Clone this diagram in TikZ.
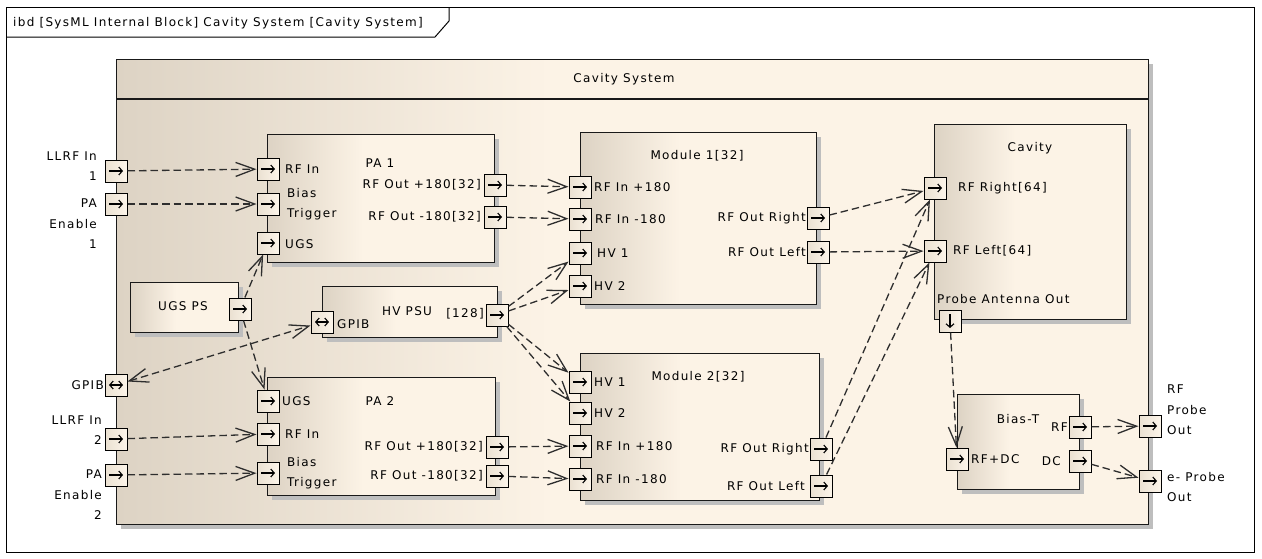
\documentclass[tikz,border=0pt]{standalone}
\usepackage{fontspec}
\setmainfont{DejaVu Sans}[LetterSpace=11]
\usetikzlibrary{arrows.meta,shadows}
\definecolor{blkdark}{HTML}{DDD3C4}
\definecolor{blklight}{HTML}{FCF3E6}
\definecolor{portdark}{HTML}{EAE0D1}
\definecolor{portlight}{HTML}{FCF5EA}
\definecolor{shadowc}{HTML}{BEBEBE}
\definecolor{linec}{HTML}{2E2E2E}
\pgfdeclarehorizontalshading{blkshade}{100bp}{color(0bp)=(blkdark); color(25bp)=(blkdark); color(46bp)=(blklight); color(100bp)=(blklight)}
\newcommand\lblfont{\fontsize{12}{20.5}\selectfont}
\tikzset{
  block/.style={draw=black!90, line width=1.2pt, shading=blkshade, anchor=north west, inner sep=0pt,
    drop shadow={shadow xshift=4pt, shadow yshift=-4pt, fill=shadowc, opacity=1}},
  port/.style={draw=black, line width=1pt, left color=portdark, right color=portlight, minimum size=22pt, inner sep=0pt},
  pR/.style={port, path picture={\draw[line width=1.1pt, -{Straight Barb[length=3.5pt,width=8pt]}] ([xshift=-7pt]path picture bounding box.center) -- ([xshift=7pt]path picture bounding box.center);}},
  pLR/.style={port, path picture={\draw[line width=1.1pt, {Straight Barb[length=3.5pt,width=8pt]}-{Straight Barb[length=3.5pt,width=8pt]}] ([xshift=-7pt]path picture bounding box.center) -- ([xshift=7pt]path picture bounding box.center);}},
  pD/.style={port, path picture={\draw[line width=1.1pt, -{Straight Barb[length=3.5pt,width=8pt]}] ([yshift=7pt]path picture bounding box.center) -- ([yshift=-7pt]path picture bounding box.center);}},
  lbl/.style={inner sep=0pt, font=\lblfont},
  conn/.style={draw=linec, line width=1.3pt, dash pattern=on 7.5pt off 4pt, -{Straight Barb[length=19pt,width=14pt]}},
  conn2/.style={conn, {Straight Barb[length=19pt,width=14pt]}-{Straight Barb[length=19pt,width=14pt]}}
}
\begin{document}
\begin{tikzpicture}[x=1pt,y=-1pt]
\useasboundingbox (0,0) rectangle (1262,558);
% frame
\draw[line width=1pt] (6,7) rectangle (1254,552);
\draw[line width=1pt] (6,37) -- (435,37) -- (449,21) -- (449,7);
\node[lbl, anchor=west] (hdr) at (13,23) {ibd [SysML Internal Block] Cavity System [Cavity System]};
% outer block
\node[block, minimum width=1032pt, minimum height=465pt] (sys) at (116,59) {};
\draw[line width=1.2pt, black!90] ([yshift=-40pt]sys.north west) -- ([yshift=-40pt]sys.north east);
\node[lbl] (systitle) at (624,79) {Cavity System};
% blocks
\node[block, minimum width=227pt, minimum height=128pt] (pa1) at (267,134) {};
\node[block, minimum width=175pt, minimum height=51pt] (hvpsu) at (322,286) {};
\node[block, minimum width=108pt, minimum height=50pt] (ugsps) at (130,282) {};
\node[block, minimum width=236pt, minimum height=172pt] (mod1) at (580,132) {};
\node[block, minimum width=192pt, minimum height=195pt] (cav) at (934,124) {};
\node[block, minimum width=228pt, minimum height=118pt] (pa2) at (267,377) {};
\node[block, minimum width=239pt, minimum height=147pt] (mod2) at (580,353) {};
\node[block, minimum width=122pt, minimum height=95pt] (biast) at (957,394) {};
% titles
\node[lbl] (pa1t) at (380,163) {PA 1};
\node[lbl] (hvt) at (407,311) {HV PSU};
\node[lbl] (ugst) at (183,306) {UGS PS};
\node[lbl] (m1t) at (697,156) {Module 1[32]};
\node[lbl] (cavt) at (1030,148) {Cavity};
\node[lbl] (pa2t) at (380,401) {PA 2};
\node[lbl] (m2t) at (698,377) {Module 2[32]};
\node[lbl] (bt) at (1018,419) {Bias-T};
% boundary ports
\node[pR] (llrf1) at (116,171) {};
\node[pR] (paen1) at (116,204) {};
\node[pLR] (gpib) at (116,385) {};
\node[pR] (llrf2) at (116,439) {};
\node[pR] (paen2) at (116,475) {};
\node[pR] (rfprobe) at (1150,426) {};
\node[pR] (eprobe) at (1150,481) {};
\node[lbl, anchor=east, align=right] at (97,166) {LLRF In\\1};
\node[lbl, anchor=east, align=right] at (97,224) {PA\\Enable\\1};
\node[lbl, anchor=east] at (104,385) {GPIB};
\node[lbl, anchor=east, align=right] at (102,430) {LLRF In\\2};
\node[lbl, anchor=east, align=right] at (102,495) {PA\\Enable\\2};
\node[lbl, anchor=west, align=left] at (1167,410) {RF\\Probe\\Out};
\node[lbl, anchor=west, align=left] at (1167,487) {e- Probe\\Out};
% PA1 ports
\node[pR] (pa1rf) at (268,169) {};
\node[pR] (pa1bias) at (268,204) {};
\node[pR] (pa1ugs) at (268,243) {};
\node[pR] (pa1p) at (495,185) {};
\node[pR] (pa1m) at (495,217) {};
\node[lbl, anchor=west] at (285,169) {RF In};
\node[lbl, anchor=west, align=left] at (287,204) {Bias\\Trigger};
\node[lbl, anchor=west] at (285,244) {UGS};
\node[lbl, anchor=east] at (481,185) {RF Out +180[32]};
\node[lbl, anchor=east] at (481,217) {RF Out -180[32]};
% HV PSU / UGS PS ports
\node[pLR] (hvg) at (322,322) {};
\node[pR] (hvo) at (497,315) {};
\node[pR] (ugso) at (240,309) {};
\node[lbl, anchor=west] at (337,324) {GPIB};
\node[lbl, anchor=east] at (484,314) {[128]};
% Module 1 ports
\node[pR] (m1p) at (580,187) {};
\node[pR] (m1m) at (580,219) {};
\node[pR] (m1h1) at (580,253) {};
\node[pR] (m1h2) at (580,286) {};
\node[pR] (m1r) at (818,218) {};
\node[pR] (m1l) at (818,252) {};
\node[lbl, anchor=west] at (594,187) {RF In +180};
\node[lbl, anchor=west] at (595,219) {RF In -180};
\node[lbl, anchor=west] at (597,253) {HV 1};
\node[lbl, anchor=west] at (594,286) {HV 2};
\node[lbl, anchor=east] at (806,218) {RF Out Right};
\node[lbl, anchor=east] at (806,252) {RF Out Left};
% Cavity ports
\node[pR] (cr) at (935,188) {};
\node[pR] (cl) at (935,251) {};
\node[pD] (cprobe) at (950,321) {};
\node[lbl, anchor=west] at (958,188) {RF Right[64]};
\node[lbl, anchor=west] at (953,251) {RF Left[64]};
\node[lbl, anchor=west] at (937,299) {Probe Antenna Out};
% PA2 ports
\node[pR] (pa2ugs) at (268,401) {};
\node[pR] (pa2rf) at (268,434) {};
\node[pR] (pa2bias) at (268,473) {};
\node[pR] (pa2p) at (497,447) {};
\node[pR] (pa2m) at (497,476) {};
\node[lbl, anchor=west] at (282,401) {UGS};
\node[lbl, anchor=west] at (285,434) {RF In};
\node[lbl, anchor=west, align=left] at (287,473) {Bias\\Trigger};
\node[lbl, anchor=east] at (483,447) {RF Out +180[32]};
\node[lbl, anchor=east] at (483,476) {RF Out -180[32]};
% Module 2 ports
\node[pR] (m2h1) at (580,382) {};
\node[pR] (m2h2) at (580,413) {};
\node[pR] (m2p) at (580,446) {};
\node[pR] (m2m) at (580,479) {};
\node[pR] (m2r) at (821,449) {};
\node[pR] (m2l) at (821,486) {};
\node[lbl, anchor=west] at (594,382) {HV 1};
\node[lbl, anchor=west] at (594,413) {HV 2};
\node[lbl, anchor=west] at (596,446) {RF In +180};
\node[lbl, anchor=west] at (596,479) {RF In -180};
\node[lbl, anchor=east] at (809,449) {RF Out Right};
\node[lbl, anchor=east] at (805,486) {RF Out Left};
% Bias-T ports
\node[pR] (bin) at (957,459) {};
\node[pR] (brf) at (1080,427) {};
\node[pR] (bdc) at (1080,461) {};
\node[lbl, anchor=west] at (971,459) {RF+DC};
\node[lbl, anchor=east] at (1068,427) {RF};
\node[lbl, anchor=east] at (1061,461) {DC};
% connectors
\draw[conn] (llrf1) -- (pa1rf);
\draw[conn] (paen1) -- (pa1bias);
\draw[conn] (llrf2) -- (pa2rf);
\draw[conn] (paen2) -- (pa2bias);
\draw[conn] (ugso) -- (pa1ugs);
\draw[conn] (ugso) -- (pa2ugs);
\draw[conn2] (gpib) -- (hvg);
\draw[conn] (pa1p) -- (m1p);
\draw[conn] (pa1m) -- (m1m);
\draw[conn] (hvo) -- (m1h1);
\draw[conn] (hvo) -- (m1h2);
\draw[conn] (hvo) -- (m2h1);
\draw[conn] (hvo) -- (m2h2);
\draw[conn] (pa2p) -- (m2p);
\draw[conn] (pa2m) -- (m2m);
\draw[conn] (m1r) -- (cr);
\draw[conn] (m1l) -- (cl);
\draw[conn] (m2r) -- (cr);
\draw[conn] (m2l) -- (cl);
\draw[conn] (cprobe) -- (bin);
\draw[conn] (brf) -- (rfprobe);
\draw[conn] (bdc) -- (eprobe);
\end{tikzpicture}
\end{document}
